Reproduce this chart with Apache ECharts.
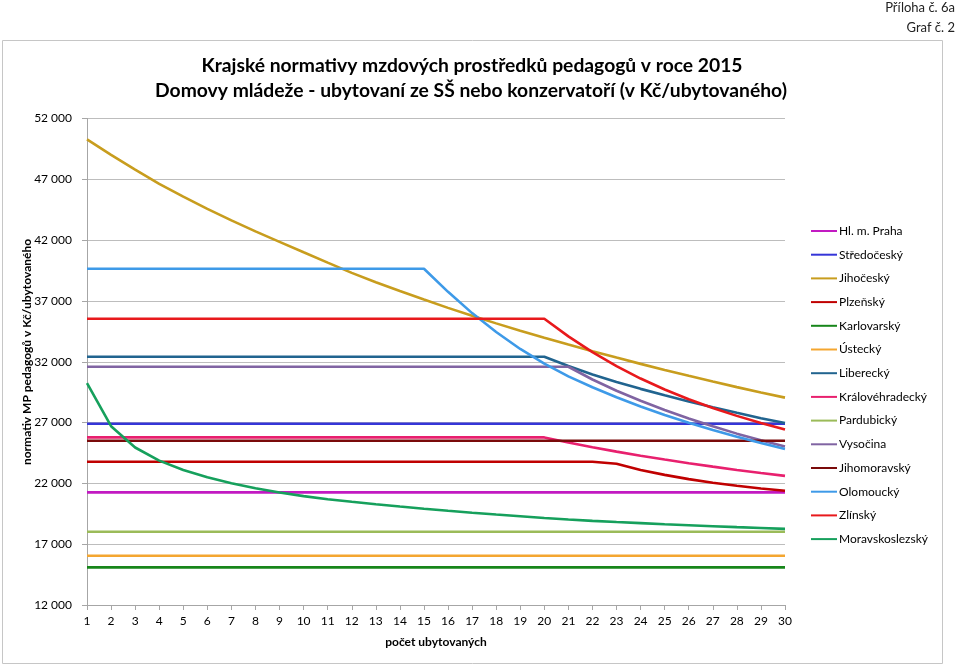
<!DOCTYPE html>
<html>
<head>
<meta charset="utf-8">
<script src="https://cdn.jsdelivr.net/npm/echarts@6/dist/echarts.min.js"></script>
<style>html,body{margin:0;padding:0;background:#fff;}#c{width:960px;height:666px;}</style>
</head>
<body>
<div id="c"></div>
<script>
const categories = [1,2,3,4,5,6,7,8,9,10,11,12,13,14,15,16,17,18,19,20,21,22,23,24,25,26,27,28,29,30];
const yTicks = [12000, 17000, 22000, 27000, 32000, 37000, 42000, 47000, 52000];
const seriesNames = ['Hl. m. Praha','Středočeský','Jihočeský','Plzeňský','Karlovarský','Ústecký','Liberecký','Královéhradecký','Pardubický','Vysočina','Jihomoravský','Olomoucký','Zlínský','Moravskoslezský'];

const praha = [21260,21260,21260,21260,21260,21260,21260,21260,21260,21260,21260,21260,21260,21260,21260,21260,21260,21260,21260,21260,21260,21260,21260,21260,21260,21260,21260,21260,21260,21260];
const stredocesky = [26900,26900,26900,26900,26900,26900,26900,26900,26900,26900,26900,26900,26900,26900,26900,26900,26900,26900,26900,26900,26900,26900,26900,26900,26900,26900,26900,26900,26900,26900];
const jihocesky = [50290,49010,47790,46630,45570,44570,43620,42720,41860,41000,40150,39310,38540,37810,37110,36430,35780,35155,34555,33975,33415,32870,32340,31825,31325,30840,30370,29915,29475,29050];
const plzensky = [23780,23780,23780,23780,23780,23780,23780,23780,23780,23780,23780,23780,23780,23780,23780,23780,23780,23780,23780,23780,23780,23780,23620,23100,22700,22350,22050,21800,21580,21390];
const karlovarsky = [15090,15090,15090,15090,15090,15090,15090,15090,15090,15090,15090,15090,15090,15090,15090,15090,15090,15090,15090,15090,15090,15090,15090,15090,15090,15090,15090,15090,15090,15090];
const ustecky = [16050,16050,16050,16050,16050,16050,16050,16050,16050,16050,16050,16050,16050,16050,16050,16050,16050,16050,16050,16050,16050,16050,16050,16050,16050,16050,16050,16050,16050,16050];
const liberecky = [32410,32410,32410,32410,32410,32410,32410,32410,32410,32410,32410,32410,32410,32410,32410,32410,32410,32410,32410,32410,31650,30960,30340,29770,29240,28740,28260,27800,27360,26960];
const kralovehradecky = [25780,25780,25780,25780,25780,25780,25780,25780,25780,25780,25780,25780,25780,25780,25780,25780,25780,25780,25780,25780,25360,24970,24610,24275,23960,23660,23375,23105,22855,22620];
const pardubicky = [18020,18020,18020,18020,18020,18020,18020,18020,18020,18020,18020,18020,18020,18020,18020,18020,18020,18020,18020,18020,18020,18020,18020,18020,18020,18020,18020,18020,18020,18020];
const vysocina = [31590,31590,31590,31590,31590,31590,31590,31590,31590,31590,31590,31590,31590,31590,31590,31590,31590,31590,31590,31590,31590,30540,29620,28790,28030,27330,26690,26090,25540,25040];
const jihomoravsky = [25500,25500,25500,25500,25500,25500,25500,25500,25500,25500,25500,25500,25500,25500,25500,25500,25500,25500,25500,25500,25500,25500,25500,25500,25500,25500,25500,25500,25500,25500];
const olomoucky = [39650,39650,39650,39650,39650,39650,39650,39650,39650,39650,39650,39650,39650,39650,39650,37750,36000,34450,33050,31850,30800,29900,29080,28320,27620,26980,26390,25840,25320,24830];
const zlinsky = [35540,35540,35540,35540,35540,35540,35540,35540,35540,35540,35540,35540,35540,35540,35540,35540,35540,35540,35540,35540,34090,32790,31640,30620,29720,28920,28200,27550,26960,26420];
const moravskoslezsky = [30250,26700,24950,23870,23100,22500,22010,21600,21250,20950,20700,20490,20290,20100,19920,19750,19590,19440,19300,19150,19030,18920,18820,18730,18640,18560,18480,18400,18330,18260];

const seriesData = [praha, stredocesky, jihocesky, plzensky, karlovarsky, ustecky, liberecky, kralovehradecky, pardubicky, vysocina, jihomoravsky, olomoucky, zlinsky, moravskoslezsky];
const colors = ['#C21AC2','#3535D8','#C89D1E','#C00000','#17861A','#F4A630','#21648F','#E8206E','#9BBB59','#8064A2','#7A0A0A','#3E9AE8','#E8191C','#16A05C'];

const FONT = 'Lato, "Open Sans", sans-serif';
const fmt = v => String(v).replace(/\B(?=(\d{3})+(?!\d))/g, ' ');

const chart = echarts.init(document.getElementById('c'), null, {renderer: 'canvas'});
chart.setOption({
  animation: false,
  backgroundColor: '#ffffff',
  textStyle: {fontFamily: FONT},
  grid: {left: 87, right: 175, top: 118.5, bottom: 61, containLabel: false},
  xAxis: {
    type: 'category',
    data: categories,
    boundaryGap: false,
    axisLine: {show: true, lineStyle: {color: '#a6a6a6', width: 1}},
    axisTick: {show: true, alignWithLabel: true, length: 5, lineStyle: {color: '#a6a6a6'}},
    axisLabel: {color: '#000', fontSize: 12, margin: 10, fontFamily: FONT, interval: 0},
    splitLine: {show: false},
    name: 'počet ubytovaných',
    nameLocation: 'middle',
    nameGap: 31,
    nameTextStyle: {color: '#000', fontSize: 12, fontWeight: 'bold', fontFamily: FONT}
  },
  yAxis: {
    type: 'value',
    min: yTicks[0],
    max: yTicks[yTicks.length - 1],
    interval: yTicks[1] - yTicks[0],
    axisLine: {show: true, lineStyle: {color: '#a6a6a6', width: 1}},
    axisTick: {show: true, length: 5, lineStyle: {color: '#a6a6a6'}},
    axisLabel: {color: '#000', fontSize: 12, margin: 15, fontFamily: FONT, formatter: fmt},
    splitLine: {show: true, lineStyle: {color: '#bdbdbd', width: 1}}
  },
  legend: {
    orient: 'vertical',
    left: 806,
    top: 219,
    itemWidth: 26,
    itemHeight: 14,
    itemGap: 9.7,
    icon: 'path://M0,6 L26,6 L26,8 L0,8 Z',
    textStyle: {color: '#000', fontSize: 12, fontFamily: FONT, padding: [0,0,0,-3], height: 14, lineHeight: 14},
    data: seriesNames
  },
  series: seriesNames.map((n, i) => ({
    name: n,
    type: 'line',
    data: seriesData[i],
    symbol: 'none',
    smooth: false,
    lineStyle: {color: colors[i], width: 2.6},
    itemStyle: {color: colors[i]},
    emphasis: {disabled: true}
  })),
  graphic: [
    {type: 'rect', shape: {x: 2.5, y: 40.5, width: 940, height: 623}, style: {fill: 'none', stroke: '#c6c6c6', lineWidth: 1}, z: -1},
    {type: 'text', x: 955, y: 8, style: {text: 'Příloha č. 6a', fill: '#222', font: '13px ' + FONT, textAlign: 'right', textVerticalAlign: 'middle'}},
    {type: 'text', x: 955, y: 28, style: {text: 'Graf č. 2', fill: '#222', font: '13px ' + FONT, textAlign: 'right', textVerticalAlign: 'middle'}},
    {type: 'text', x: 472, y: 66, style: {text: 'Krajské normativy mzdových prostředků pedagogů v roce 2015', fill: '#000', font: 'bold 19.3px ' + FONT, textAlign: 'center', textVerticalAlign: 'middle'}},
    {type: 'text', x: 471, y: 91, style: {text: 'Domovy mládeže - ubytovaní ze SŠ nebo konzervatoří (v Kč/ubytovaného)', fill: '#000', font: 'bold 19.3px ' + FONT, textAlign: 'center', textVerticalAlign: 'middle'}},
    {type: 'text', x: 27, y: 352, rotation: Math.PI / 2, style: {text: 'normativ MP pedagogů v Kč/ubytovaného', fill: '#000', font: 'bold 12px ' + FONT, textAlign: 'center', textVerticalAlign: 'middle'}}
  ]
});
</script>
</body>
</html>
